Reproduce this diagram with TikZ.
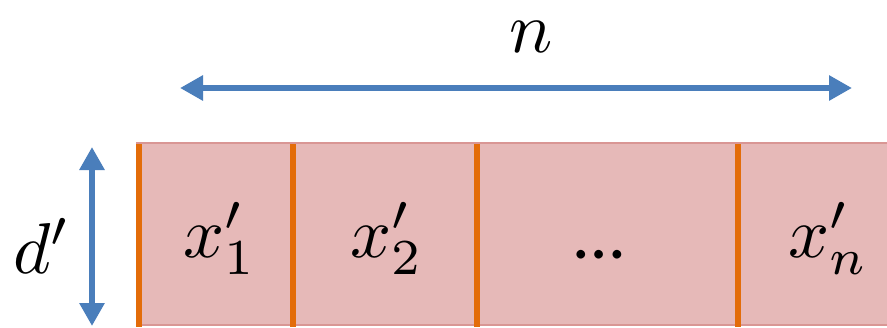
\documentclass[tikz,border=0pt]{standalone}
\usepackage{graphicx}
\usepackage{fontspec}
\newfontfamily\dotsfont{Carlito}
\usetikzlibrary{arrows.meta}
\definecolor{arrowblue}{HTML}{4A7EBB}
\definecolor{cellpink}{HTML}{E6B9B8}
\definecolor{cellborder}{HTML}{D99694}
\definecolor{seporange}{HTML}{E36C09}
\newcommand{\bigmath}[1]{\scalebox{7.2}{$#1$}}
\begin{document}
\begin{tikzpicture}[x=1pt,y=-1pt,
  dimarrow/.style={arrowblue, line width=6pt,
    {Triangle[length=23pt,width=24pt]}-{Triangle[length=23pt,width=24pt]}},
  sepline/.style={seporange, line width=6pt},
  lbl/.style={inner sep=0pt, anchor=base, font=\fontsize{10}{12}\selectfont}]
  \clip (0,0) rectangle (887,327);
  \fill[white] (0,0) rectangle (887,327);
  % the vector strip
  \draw[cellborder, fill=cellpink, line width=1.5pt] (137,143) rectangle (900,325);
  \foreach \x in {139,293,477,738}
    \draw[sepline] (\x,144) -- (\x,327);
  % dimension arrows
  \coordinate (nL) at (180,88);
  \coordinate (nR) at (852,88);
  \coordinate (dT) at (92,147);
  \coordinate (dB) at (92,326);
  \draw[dimarrow] (nL) -- (nR);
  \draw[dimarrow] (dT) -- (dB);
  % labels
  \node[lbl] (n) at (531,52) {\bigmath{n}};
  \node[lbl] (d) at (42,273) {\bigmath{d'}};
  \node[lbl] (x1) at (220,257) {\bigmath{x'_1}};
  \node[lbl] (x2) at (387,257) {\bigmath{x'_2}};
  \node[lbl, font=\dotsfont\fontsize{72}{80}\selectfont] (dots) at (599,258) {…};
  \node[lbl] (xn) at (829,257) {\bigmath{x'_n}};
\end{tikzpicture}
\end{document}
